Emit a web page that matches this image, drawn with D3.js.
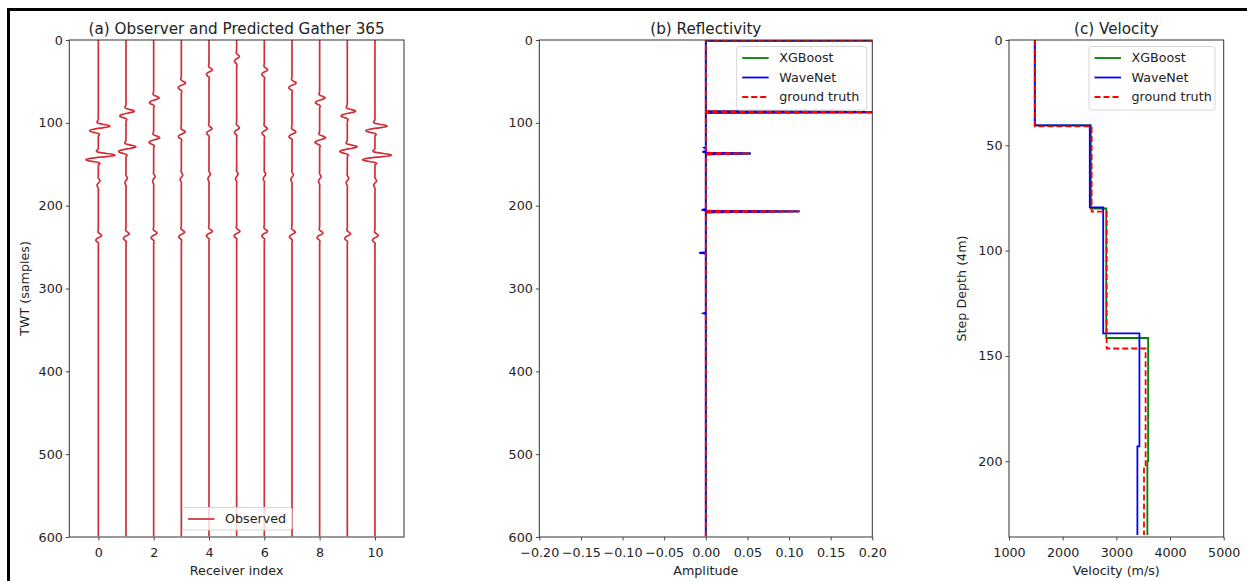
<!DOCTYPE html>
<html>
<head>
<meta charset="utf-8">
<script src="https://cdn.jsdelivr.net/npm/d3@7"></script>
<style>
  html, body { margin: 0; padding: 0; background: #fff; }
  svg { display: block; font-family: "DejaVu Sans", sans-serif; }
</style>
</head>
<body>
<svg id="chart" width="1247" height="581"></svg>
<script>
// ---------------- data ----------------
// (a) shot gather: 11 receivers, event picks (TWT sample of wavelet peak) and amplitudes per receiver
const receivers = [0, 1, 2, 3, 4, 5, 6, 7, 8, 9, 10];
const event1Time = [104, 86, 70, 52, 36, 20, 36, 52, 70, 86, 104];
const event1Amp  = [0.42, 0.30, 0.20, 0.15, 0.12, 0.10, 0.12, 0.15, 0.20, 0.30, 0.44];
const event2Time = [139, 129, 118, 111, 107, 106, 107, 111, 118, 129, 139];
const event2Amp  = [0.60, 0.36, 0.22, 0.14, 0.11, 0.10, 0.11, 0.14, 0.22, 0.36, 0.60];
const event3Time = [170, 167, 165, 163, 162, 162, 162, 163, 165, 167, 170];
const event3Amp  = [0.06, 0.05, 0.05, 0.05, 0.05, 0.05, 0.05, 0.05, 0.05, 0.05, 0.06];
const event4Time = [236, 234, 233, 232, 231, 231, 231, 232, 233, 234, 236];
const event4Amp  = [0.12, 0.12, 0.12, 0.12, 0.12, 0.12, 0.12, 0.12, 0.12, 0.12, 0.12];
// source wavelet samples, first sample at offset -8 from the peak
const waveletStart = -8;
const wavelet = [0, -0.03, -0.08, -0.12, -0.08, 0.15, 0.5, 0.85, 1.0, 0.8, 0.35,
                 -0.15, -0.5, -0.72, -0.75, -0.55, -0.25, 0.02, 0.1, 0.06, 0];
const nSamples = 600;

// (b) reflectivity spikes (TWT sample, amplitude); zero elsewhere
const xgbSpikeT   = [0, 87, 137, 207];
const xgbSpikeA   = [1.0, 0.26, 0.054, 0.112];
const waveSpikeT  = [0, 87, 130, 135, 137, 205, 207, 257, 330];
const waveSpikeA  = [1.0, 0.26, -0.002, -0.004, 0.054, -0.005, 0.113, -0.008, -0.003];
const truthSpikeT = [0, 87, 137, 207];
const truthSpikeA = [1.0, 0.26, 0.053, 0.112];

// (c) velocity layers: top step depth and interval velocity (m/s)
const xgbTop   = [0, 40.5, 80, 141.5, 200];
const xgbVel   = [1482, 2525, 2812, 3592, 3578];
const waveTop  = [0, 40.5, 79.5, 139.3, 193];
const waveVel  = [1480, 2505, 2755, 3430, 3392];
const truthTop = [0, 41, 81.5, 146.5, 202];
const truthVel = [1480, 2540, 2820, 3545, 3515];
const depthEnd = 235;

// tick values
const ticksA_x = [0, 2, 4, 6, 8, 10];
const ticksTWT = [0, 100, 200, 300, 400, 500, 600];
const ticksAmp = [-0.2, -0.15, -0.1, -0.05, 0, 0.05, 0.1, 0.15, 0.2];
const ticksVel = [1000, 2000, 3000, 4000, 5000];
const ticksDepth = [0, 50, 100, 150, 200];

// ---------------- layout ----------------
const svg = d3.select("#chart");
const plotTop = 40, plotBottom = 537;
const FONT = 12.7, TITLE = 15.2;
const C_TRACE = "#cf2f38", C_G = "#008000", C_B = "#0000ff", C_R = "#ff0000";

// outer frame
svg.append("line").attr("x1", 7).attr("x2", 1247).attr("y1", 9.5).attr("y2", 9.5)
  .attr("stroke", "#000").attr("stroke-width", 3);
svg.append("line").attr("x1", 8.5).attr("x2", 8.5).attr("y1", 8).attr("y2", 581)
  .attr("stroke", "#000").attr("stroke-width", 3);

function makePanel(id, x0, x1, xDomain, yDomain, xTicks, yTicks, xFmt, title, xLabel, yLabel, yLabelX) {
  const x = d3.scaleLinear().domain(xDomain).range([x0, x1]);
  const y = d3.scaleLinear().domain(yDomain).range([plotTop, plotBottom]);
  const g = svg.append("g");
  svg.append("clipPath").attr("id", "clip-" + id).append("rect")
    .attr("x", x0).attr("y", plotTop).attr("width", x1 - x0).attr("height", plotBottom - plotTop);
  const plot = g.append("g").attr("clip-path", `url(#clip-${id})`);

  const xAxis = g.append("g").attr("transform", `translate(0,${plotBottom})`)
    .call(d3.axisBottom(x).tickValues(xTicks).tickFormat(xFmt).tickSize(3.5).tickPadding(7));
  const yAxis = g.append("g").attr("transform", `translate(${x0},0)`)
    .call(d3.axisLeft(y).tickValues(yTicks).tickFormat(d3.format("d")).tickSize(3.5).tickPadding(3));
  [xAxis, yAxis].forEach(a => {
    a.select(".domain").remove();
    a.selectAll("line").attr("stroke", "#333").attr("stroke-width", 0.9);
    a.selectAll("text").attr("fill", "#222").style("font-size", FONT + "px")
      .style("font-family", "DejaVu Sans, sans-serif");
  });

  g.append("text").attr("x", (x0 + x1) / 2).attr("y", 34).attr("text-anchor", "middle")
    .attr("fill", "#222").style("font-size", TITLE + "px").text(title);
  g.append("text").attr("x", (x0 + x1) / 2).attr("y", 575).attr("text-anchor", "middle")
    .attr("fill", "#222").style("font-size", FONT + "px").text(xLabel);
  if (yLabel) {
    g.append("text").attr("transform", `translate(${yLabelX},${(plotTop + plotBottom) / 2}) rotate(-90)`)
      .attr("text-anchor", "middle").attr("dy", "0.35em")
      .attr("fill", "#222").style("font-size", FONT + "px").text(yLabel);
  }
  return { x, y, g, plot, x0, x1 };
}

function drawFrame(p) {
  p.g.append("rect").attr("x", p.x0).attr("y", plotTop).attr("width", p.x1 - p.x0)
    .attr("height", plotBottom - plotTop).attr("fill", "none").attr("stroke", "#333").attr("stroke-width", 1);
}

function legend(p, lx, ly, w, h, items) {
  const lg = p.g.append("g");
  lg.append("rect").attr("x", lx).attr("y", ly).attr("width", w).attr("height", h)
    .attr("rx", 2.5).attr("fill", "#fff").attr("fill-opacity", 0.8)
    .attr("stroke", "#d6d6d6").attr("stroke-width", 1);
  items.forEach((it, i) => {
    const cy = ly + 11.5 + i * 19.5;
    lg.append("line").attr("x1", lx + 5.5).attr("x2", lx + 32).attr("y1", cy).attr("y2", cy)
      .attr("stroke", it.color).attr("stroke-width", it.width || 1.8)
      .attr("stroke-dasharray", it.dash || null);
    lg.append("text").attr("x", lx + 42.5).attr("y", cy).attr("dy", "0.35em")
      .attr("fill", "#222").style("font-size", FONT + "px").text(it.label);
  });
}

// ---------------- (a) gather ----------------
const pa = makePanel("a", 69.3, 404, [-1.05, 11.05], [0, 600], ticksA_x, ticksTWT,
  d3.format("d"), "(a) Observer and Predicted Gather 365", "Receiver index", "TWT (samples)", 25);

const events = [[event1Time, event1Amp], [event2Time, event2Amp],
                [event3Time, event3Amp], [event4Time, event4Amp]];
function traceSamples(r) {
  const pts = [];
  for (let t = 0; t < nSamples; t++) {
    let v = 0;
    events.forEach(([T, A]) => {
      const k = t - T[r] - waveletStart;
      if (k >= 0 && k < wavelet.length) v += A[r] * wavelet[k];
    });
    pts.push([receivers[r] + v, t]);
  }
  return pts;
}
const traceLine = d3.line().x(d => pa.x(d[0])).y(d => pa.y(d[1])).curve(d3.curveMonotoneY);
receivers.forEach((rc, r) => {
  pa.plot.append("path").attr("d", traceLine(traceSamples(r)))
    .attr("fill", "none").attr("stroke", C_TRACE).attr("stroke-width", 1.7);
});
drawFrame(pa);
legend(pa, 182.5, 507.5, 109.5, 22.5, [{ label: "Observed", color: C_TRACE, width: 1.7 }]);

// ---------------- (b) reflectivity ----------------
const pb = makePanel("b", 539.3, 872.3, [-0.2, 0.2], [0, 600], ticksAmp, ticksTWT,
  d3.format(".2f"), "(b) Reflectivity", "Amplitude", null, 0);

function spikeSeries(T, A) {
  const vals = new Array(nSamples).fill(0);
  T.forEach((t, i) => { vals[t] = A[i]; });
  return vals.map((v, t) => [v, t]);
}
const reflLine = d3.line().x(d => pb.x(d[0])).y(d => pb.y(d[1]));
pb.plot.append("path").attr("d", reflLine(spikeSeries(xgbSpikeT, xgbSpikeA)))
  .attr("fill", "none").attr("stroke", C_G).attr("stroke-width", 1.8);
pb.plot.append("path").attr("d", reflLine(spikeSeries(waveSpikeT, waveSpikeA)))
  .attr("fill", "none").attr("stroke", C_B).attr("stroke-width", 1.8);
pb.plot.append("path").attr("d", reflLine(spikeSeries(truthSpikeT, truthSpikeA)))
  .attr("fill", "none").attr("stroke", C_R).attr("stroke-width", 1.8).attr("stroke-dasharray", "6,3");
drawFrame(pb);
legend(pb, 736.7, 46.5, 130, 63.5, [
  { label: "XGBoost", color: C_G },
  { label: "WaveNet", color: C_B },
  { label: "ground truth", color: C_R, dash: "6,3" }
]);

// ---------------- (c) velocity ----------------
const pc = makePanel("c", 1009, 1223.7, [1000, 5000], [0, 236], ticksVel, ticksDepth,
  d3.format("d"), "(c) Velocity", "Velocity (m/s)", "Step Depth (4m)", 962);

function layerPoints(tops, vels) {
  const pts = [];
  tops.forEach((tp, i) => {
    const next = i + 1 < tops.length ? tops[i + 1] : depthEnd;
    pts.push([vels[i], tp], [vels[i], next]);
  });
  return pts;
}
const velLine = d3.line().x(d => pc.x(d[0])).y(d => pc.y(d[1]));
pc.plot.append("path").attr("d", velLine(layerPoints(xgbTop, xgbVel)))
  .attr("fill", "none").attr("stroke", C_G).attr("stroke-width", 1.8);
pc.plot.append("path").attr("d", velLine(layerPoints(waveTop, waveVel)))
  .attr("fill", "none").attr("stroke", C_B).attr("stroke-width", 1.8);
pc.plot.append("path").attr("d", velLine(layerPoints(truthTop, truthVel)))
  .attr("fill", "none").attr("stroke", C_R).attr("stroke-width", 1.8).attr("stroke-dasharray", "6,3");
drawFrame(pc);
legend(pc, 1089, 46.5, 126, 63.5, [
  { label: "XGBoost", color: C_G },
  { label: "WaveNet", color: C_B },
  { label: "ground truth", color: C_R, dash: "6,3" }
]);
</script>
</body>
</html>
